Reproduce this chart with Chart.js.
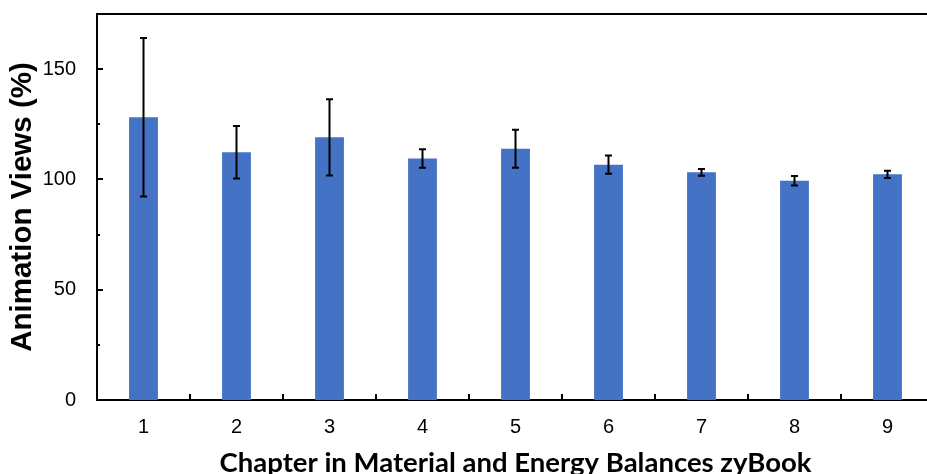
<!DOCTYPE html>
<html lang="en">
<head>
  <meta charset="UTF-8">
  <title>Animation Views by Chapter</title>
  <script src="https://cdn.jsdelivr.net/npm/chart.js"></script>
  <style>
    html, body {
      margin: 0;
      padding: 0;
      background: #fff;
      overflow: hidden;
    }
    #viewsChart {
      display: block;
    }
  </style>
</head>
<body>
  <canvas id="viewsChart" width="934" height="474"></canvas>
  <script>
    // chapters of the zyBook
    const chapters = ['1', '2', '3', '4', '5', '6', '7', '8', '9'];
    // mean animation views (%) per chapter
    const meanViews = [128.2, 112.3, 119.1, 109.5, 113.9, 106.7, 103.2, 99.4, 102.3];
    // error bar half-length (+/-)
    const errViews = [35.9, 11.9, 17.3, 4.2, 8.6, 4.1, 1.5, 2.2, 1.6];
    // labelled y ticks
    const yTickLabels = [0, 50, 100, 150];

    // keep the plot area where the reference has it
    function fixBox(w, h) {
      return s => {
        if (w !== null) s.width = w;
        if (h !== null) s.height = h;
        s.paddingTop = 0;
        s.paddingBottom = 0;
        s.paddingLeft = 0;
        s.paddingRight = 0;
      };
    }

    // error bars + inward tick marks, drawn with the chart's own scales
    const errorBarPlugin = {
      id: 'errorBars',
      afterDatasetsDraw(chart) {
        const ctx = chart.ctx;
        const y = chart.scales.y;
        const meta = chart.getDatasetMeta(0);
        ctx.save();
        ctx.strokeStyle = '#000';
        ctx.lineWidth = 2;
        meta.data.forEach((bar, i) => {
          const top = y.getPixelForValue(meanViews[i] + errViews[i]);
          const bot = y.getPixelForValue(meanViews[i] - errViews[i]);
          ctx.beginPath();
          ctx.moveTo(bar.x, top);
          ctx.lineTo(bar.x, bot);
          ctx.moveTo(bar.x - 3.5, top);
          ctx.lineTo(bar.x + 3.5, top);
          ctx.moveTo(bar.x - 3.5, bot);
          ctx.lineTo(bar.x + 3.5, bot);
          ctx.stroke();
        });
        ctx.restore();
      },
      afterDraw(chart) {
        const ctx = chart.ctx;
        const area = chart.chartArea;
        const x = chart.scales.x;
        const y = chart.scales.y;
        ctx.save();
        ctx.strokeStyle = '#000';
        ctx.lineWidth = 2;
        ctx.beginPath();
        y.ticks.forEach(t => {
          const py = Math.round(y.getPixelForValue(t.value));
          const len = t.value % 50 === 0 ? 6 : 3;
          ctx.moveTo(area.left, py);
          ctx.lineTo(area.left + len, py);
        });
        for (let i = 0; i < chapters.length - 1; i++) {
          const px = Math.round((x.getPixelForValue(i) + x.getPixelForValue(i + 1)) / 2);
          ctx.moveTo(px, area.bottom);
          ctx.lineTo(px, area.bottom - 6);
        }
        ctx.stroke();
        ctx.restore();
      }
    };

    new Chart(document.getElementById('viewsChart'), {
      type: 'bar',
      data: {
        labels: chapters,
        datasets: [{
          label: 'Animation Views (%)',
          data: meanViews,
          backgroundColor: '#4472C4',
          barPercentage: 0.31,
          categoryPercentage: 1.0
        }]
      },
      options: {
        responsive: false,
        animation: false,
        layout: { padding: 0 },
        plugins: {
          legend: { display: false },
          tooltip: { enabled: false }
        },
        scales: {
          x: {
            position: 'bottom',
            afterFit: fixBox(null, 74),
            grid: { display: false },
            border: { display: true, color: '#000', width: 2 },
            ticks: {
              color: '#000',
              padding: 7,
              font: { family: 'Liberation Sans', size: 20 }
            },
            title: {
              display: true,
              text: 'Chapter in Material and Energy Balances zyBook',
              color: '#000',
              padding: { top: 0, bottom: 0 },
              font: { family: 'Lato', size: 27.5, weight: 'bold', lineHeight: 0.8 }
            }
          },
          xTop: {
            type: 'category',
            position: 'top',
            labels: chapters,
            afterFit: fixBox(null, 14),
            grid: { display: false },
            border: { display: true, color: '#000', width: 2 },
            ticks: { display: false }
          },
          y: {
            min: 0,
            max: 175,
            afterFit: fixBox(97, null),
            grid: { display: false },
            border: { display: true, color: '#000', width: 2 },
            ticks: {
              stepSize: 25,
              color: '#000',
              padding: 13,
              font: { family: 'Liberation Sans', size: 20 },
              callback: v => yTickLabels.includes(v) ? String(v) : ''
            },
            title: {
              display: true,
              text: 'Animation Views (%)',
              color: '#000',
              padding: { top: 8, bottom: 0 },
              font: { family: 'Liberation Sans', size: 29.5, weight: 'bold', lineHeight: 1 }
            }
          }
        }
      },
      plugins: [errorBarPlugin]
    });
  </script>
</body>
</html>
